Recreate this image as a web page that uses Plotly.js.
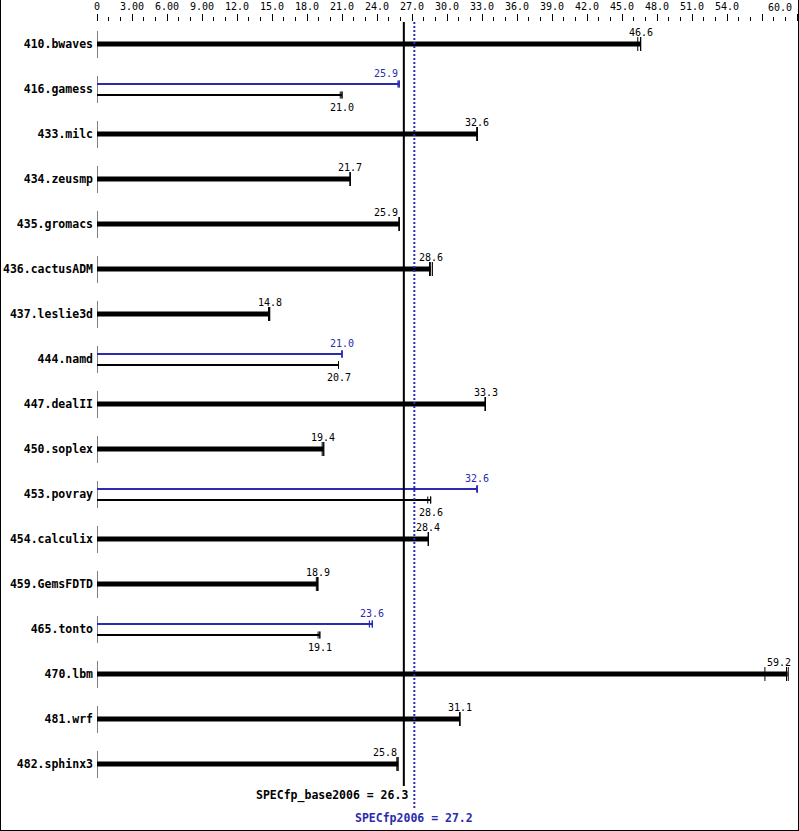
<!DOCTYPE html>
<html><head><meta charset="utf-8">
<script src="https://cdn.plot.ly/plotly-3.0.1.min.js"></script>
<style>
html,body{margin:0;padding:0;background:#fff;}
#frame{width:799px;height:831px;box-sizing:border-box;border:1px solid #000;border-top:none;overflow:hidden;}
#chart{width:797px;height:830px;}
</style></head>
<body><div id="frame"><div id="chart"></div></div>
<script>
const benchmarks = ["410.bwaves","416.gamess","433.milc","434.zeusmp","435.gromacs","436.cactusADM","437.leslie3d","444.namd","447.dealII","450.soplex","453.povray","454.calculix","459.GemsFDTD","465.tonto","470.lbm","481.wrf","482.sphinx3"];
const baseValues = [46.6, 21.0, 32.6, 21.7, 25.9, 28.6, 14.8, 20.7, 33.3, 19.4, 28.6, 28.4, 18.9, 19.1, 59.2, 31.1, 25.8];
const peakValues = [null, 25.9, null, null, null, null, null, 21.0, null, null, 32.6, null, null, 23.6, null, null, null];
const baseRuns = [[46.35,46.6,46.6],[20.85,21.0,21.0],[32.55,32.6,32.6],[21.7,21.7,21.7],[25.9,25.9,25.9],[28.5,28.6,28.75],[14.7,14.8,14.8],[20.7,20.7,20.7],[33.25,33.3,33.3],[19.3,19.4,19.45],[28.35,28.6,28.6],[28.4,28.4,28.4],[18.8,18.9,18.95],[18.95,19.1,19.1],[57.25,59.1,59.25],[31.1,31.1,31.1],[25.7,25.8,25.8]];
const peakRuns = [null,[25.8,25.9,25.9],null,null,null,null,null,[21.0,21.0,21.0],null,null,[32.55,32.6,32.6],null,null,[23.35,23.6,23.6],null,null,null];
const baseMean = 26.3;
const peakMean = 27.2;
const baseMeanLabel = "SPECfp_base2006 = 26.3";
const peakMeanLabel = "SPECfp2006 = 27.2";
const tickVals = [0,3,6,9,12,15,18,21,24,27,30,33,36,39,42,45,48,51,54,57,60];
const tickText = ["0","3.00","6.00","9.00","12.0","15.0","18.0","21.0","24.0","27.0","30.0","33.0","36.0","39.0","42.0","45.0","48.0","51.0","54.0","",""];
const lastTickVal = 60;
const lastTickText = "60.0";

const BLUE = "#2b2bb0";
const MONO = "DejaVu Sans Mono, Liberation Mono, monospace";
const ROWPX = 45;
const TOP = 22;
const PLOTH = 807;
const yMin = -22/ROWPX;
const yMax = yMin + PLOTH/ROWPX;
const XMAX = 60;
const PXU = 700/XMAX;
const d = px => px/ROWPX;

function segs(list){
  const x=[],y=[];
  list.forEach(s=>{x.push(s[0],s[2],null);y.push(s[1],s[3],null);});
  return {x,y};
}
const thick=[], thinBase=[], thinPeak=[], tickThick=[], tickBase=[], tickPeak=[], starts=[];
const ann=[];
function labelPos(v){
  const w = String(v.toFixed(1)).length*6;
  if (v*PXU + w/2 > XMAX*PXU - 4) return {x:XMAX, xanchor:'right', xshift:-4};
  if (v < baseMean && v*PXU + w/2 > baseMean*PXU - 1) return {x:v, xanchor:'right', xshift:1};
  return {x:v, xanchor:'center', xshift:0};
}
benchmarks.forEach((b,i)=>{
  starts.push([0,i-d(13),0,i+d(14)]);
  const bv = baseValues[i], pv = peakValues[i];
  if (pv === null){
    thick.push([0,i,bv,i]);
    baseRuns[i].forEach(r=>tickThick.push([r,i-d(7),r,i+d(7)]));
    ann.push(Object.assign({y:i,yshift:12,text:bv.toFixed(1),font:{color:'#000'}},labelPos(bv)));
  } else {
    const yb=i+d(6), yp=i-d(5);
    thinBase.push([0,yb,bv,yb]);
    thinPeak.push([0,yp,pv,yp]);
    baseRuns[i].forEach(r=>tickBase.push([r,yb-d(3.5),r,yb+d(3.5)]));
    peakRuns[i].forEach(r=>tickPeak.push([r,yp-d(3.5),r,yp+d(3.5)]));
    ann.push(Object.assign({y:i,yshift:-18,text:bv.toFixed(1),font:{color:'#000'}},labelPos(bv)));
    ann.push(Object.assign({y:i,yshift:16,text:pv.toFixed(1),font:{color:BLUE}},labelPos(pv)));
  }
});
ann.forEach(a=>{a.showarrow=false;a.yanchor='middle';a.xref='x';a.yref='y';a.font=Object.assign({family:MONO,size:10},a.font);});
const toRow = px => yMin + (px-TOP)/ROWPX;
ann.push({x:baseMean,y:toRow(795),xref:'x',yref:'y',showarrow:false,xanchor:'right',xshift:6,yanchor:'middle',text:baseMeanLabel,font:{family:MONO,size:11.5,weight:'bold',color:'#000'}});
ann.push({x:peakMean,y:toRow(817.5),xref:'x',yref:'y',showarrow:false,xanchor:'center',yanchor:'middle',text:peakMeanLabel,font:{family:MONO,size:11.5,weight:'bold',color:BLUE}});
ann.push({x:lastTickVal,y:1,xref:'x',yref:'paper',showarrow:false,xanchor:'right',xshift:-3,yanchor:'middle',yshift:15,text:lastTickText,font:{family:MONO,size:10,color:'#000'}});

function tr(list,color,width){
  const s=segs(list);
  return {type:'scatter',mode:'lines',x:s.x,y:s.y,line:{color:color,width:width},hoverinfo:'skip',showlegend:false,connectgaps:false};
}
const traces=[
  tr(starts,'#000',1),
  tr(thick,'#000',5),
  tr(thinBase,'#000',2),
  tr(thinPeak,BLUE,2),
  tr(tickThick,'#000',1),
  tr(tickBase,'#000',1),
  tr(tickPeak,BLUE,1.2)
];
const layout={
  width:797,height:830,
  margin:{l:96,r:1,t:TOP,b:830-TOP-PLOTH},
  paper_bgcolor:'#fff',plot_bgcolor:'#fff',
  showlegend:false,
  xaxis:{range:[0,XMAX],side:'top',tickmode:'array',tickvals:tickVals,ticktext:tickText,ticks:'outside',ticklen:7,tickwidth:1,tickcolor:'#000',
    minor:{tickmode:'linear',tick0:0,dtick:1,ticks:'outside',ticklen:4,tickwidth:1,tickcolor:'#000'},
    showgrid:false,zeroline:false,showline:false,tickfont:{family:MONO,size:10,color:'#000'},fixedrange:true},
  yaxis:{range:[yMax,yMin],tickmode:'array',tickvals:benchmarks.map((b,i)=>i),ticktext:benchmarks,ticks:'',showgrid:false,zeroline:false,showline:false,
    tickfont:{family:MONO,size:11.5,weight:'bold',color:'#000'},ticklabelstandoff:3,fixedrange:true},
  shapes:[
    {type:'line',xref:'x',yref:'y',x0:baseMean,x1:baseMean,y0:yMin,y1:toRow(786),line:{color:'#000',width:2}},
    {type:'line',xref:'x',yref:'y',x0:peakMean,x1:peakMean,y0:yMin,y1:toRow(808),line:{color:BLUE,width:2,dash:'2px,2px'}}
  ],
  annotations:ann
};
Plotly.newPlot('chart',traces,layout,{staticPlot:true,displayModeBar:false});
</script></body></html>
